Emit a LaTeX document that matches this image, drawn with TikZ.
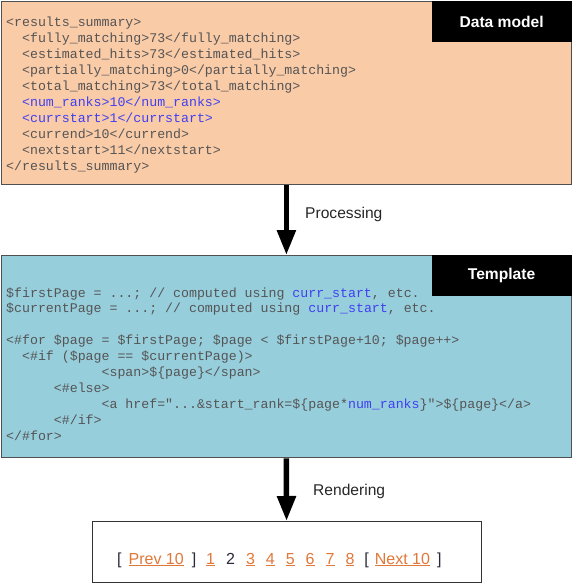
\documentclass[tikz,border=0pt]{standalone}
\usepackage{fontspec}
\setmainfont{Liberation Sans}
\setmonofont{Liberation Mono}
\usetikzlibrary{arrows.meta,positioning}

\definecolor{modelfill}{HTML}{FACBA7}
\definecolor{templfill}{HTML}{97CEDC}
\definecolor{framegray}{HTML}{505050}
\definecolor{codegray}{HTML}{555555}
\definecolor{codeblue}{HTML}{4040F0}
\definecolor{linkorange}{HTML}{E0783A}
\definecolor{bracketc}{HTML}{2A2A3C}

\newcommand{\codefont}{\fontsize{13.25}{15.9}\selectfont\ttfamily}
\newcommand{\hl}[1]{\textcolor{codeblue}{#1}}
\newcommand{\ind}[1]{\hspace*{\dimexpr#1\dimexpr0.6em\relax\relax}}
\newcommand{\lnk}[1]{{\color{linkorange}\setbox0\hbox{#1}\rlap{\rule[-2.2pt]{\wd0}{1pt}}\box0}}

\tikzset{
  panel/.style={draw=framegray, line width=1.3pt, anchor=north west, inner sep=0pt},
  tag/.style={fill=black, text=white, font=\fontsize{15.6}{18}\selectfont\bfseries,
    minimum width=140pt, minimum height=40.5pt, anchor=north east, inner sep=0pt},
  code/.style={anchor=base west, inner sep=0pt, text=codegray, font=\codefont},
  flow/.style={line width=5.5pt, -{Triangle[width=18pt,length=25pt]}},
  caption/.style={font=\fontsize{15.6}{18}\selectfont, anchor=west, inner sep=0pt, text=black!85}
}

\begin{document}
\begin{tikzpicture}[x=1pt,y=-1pt]
\useasboundingbox (0,0) rectangle (572,583);
% data model
\node[panel, fill=modelfill, minimum width=569.5pt, minimum height=183pt] (model) at (1,1) {};
\node[tag] (modeltag) at (model.north east) {Data model};
\node[code] (modelcode) at (6,27) {\begin{tabular}[t]{@{}l@{}}
<results\_summary>\\
\ind{2}<fully\_matching>73</fully\_matching>\\
\ind{2}<estimated\_hits>73</estimated\_hits>\\
\ind{2}<partially\_matching>0</partially\_matching>\\
\ind{2}<total\_matching>73</total\_matching>\\
\ind{2}\hl{<num\_ranks>10</num\_ranks>}\\
\ind{2}\hl{<currstart>1</currstart>}\\
\ind{2}<currend>10</currend>\\
\ind{2}<nextstart>11</nextstart>\\
</results\_summary>
\end{tabular}};
% template
\node[panel, fill=templfill, minimum width=569.5pt, minimum height=202pt] (templ) at (1,255) {};
\node[tag] (templtag) at (templ.north east) {Template};
\node[code] (templcode) at (6,297) {\begin{tabular}[t]{@{}l@{}}
\$firstPage = ...; // computed using \hl{curr\_start}, etc.\\
\$currentPage = ...; // computed using \hl{curr\_start}, etc.\\
\\
<\#for \$page = \$firstPage; \$page < \$firstPage+10; \$page++>\\
\ind{2}<\#if (\$page == \$currentPage)>\\
\ind{12}<span>\$\{page\}</span>\\
\ind{6}<\#else>\\
\ind{12}<a href="...\&start\_rank=\$\{page*\hl{num\_ranks}\}">\$\{page\}</a>\\
\ind{6}<\#/if>\\
</\#for>
\end{tabular}};
% rendered output
\node[panel, draw=black!80, line width=1.1pt, fill=white, minimum width=389pt, minimum height=60.5pt] (result) at (91.5,521) {};
\node[anchor=base west, inner sep=0pt, text=bracketc, font=\fontsize{16}{19}\selectfont] (pager) at (117,564)
  {[\kern7pt\lnk{Prev 10}\kern8pt]\kern10pt\lnk{1}\kern11pt 2\kern11pt\lnk{3}\kern11pt\lnk{4}\kern11pt\lnk{5}\kern11pt\lnk{6}\kern11pt\lnk{7}\kern11pt\lnk{8}\kern10pt[\kern6pt\lnk{Next 10}\kern7pt]};
% arrows
\draw[flow] (model.south) -- (templ.north);
\node[caption] (proclbl) at (305,214) {Processing};
\draw[flow] (templ.south) -- (result.north);
\node[caption] (rendlbl) at (313,491) {Rendering};
\end{tikzpicture}
\end{document}
